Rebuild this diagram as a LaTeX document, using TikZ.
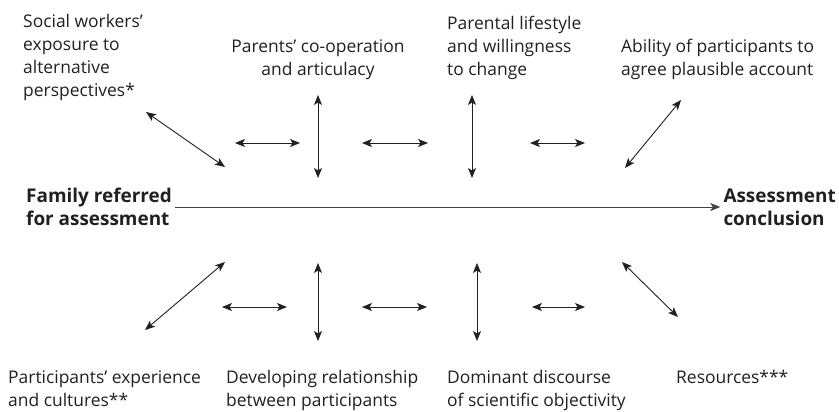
\documentclass[tikz,border=0pt]{standalone}
\usepackage{fontspec}
\setmainfont{Open Sans}
\usetikzlibrary{arrows.meta}

\definecolor{ink}{HTML}{231F20}

\tikzset{
  factor/.style={font=\fontsize{17.5}{23}\selectfont, text=ink, inner sep=0pt, align=left},
  stage/.style={font=\fontsize{19}{23}\selectfont\bfseries, text=ink, inner sep=3bp, align=left},
  twoway/.style={{Stealth[length=10bp,width=8bp,inset=2.5bp]}-{Stealth[length=10bp,width=8bp,inset=2.5bp]}, line width=0.9bp, draw=ink},
  oneway/.style={-{Stealth[length=10bp,width=8bp,inset=2.5bp]}, line width=1bp, draw=ink!85},
}

\begin{document}
\begin{tikzpicture}[x=1bp,y=-1bp]
\useasboundingbox (0,0) rectangle (839,411);

% influences above the line (base = last line)
\node[factor, anchor=base west] (social) at (23,96) {Social workers'\\exposure to\\alternative\\perspectives*};
\node[factor, anchor=base, align=center] (parents) at (318,75) {Parents' co-operation\\and articulacy};
\node[factor, anchor=base west] (lifestyle) at (447,75) {Parental lifestyle\\and willingness\\to change};
\node[factor, anchor=base west] (ability) at (621,75) {Ability of participants to\\agree plausible account};

% the assessment itself
\node[stage, anchor=west] (family) at (23,207) {Family referred\\for assessment};
\node[stage, anchor=east] (conclusion) at (839,207) {Assessment\\conclusion};
\draw[oneway] (family.east) -- (conclusion.west);

% influences below the line
\node[factor, anchor=base west] (experience) at (8,406) {Participants' experience\\and cultures**};
\node[factor, anchor=base west] (relationship) at (226,406) {Developing relationship\\between participants};
\node[factor, anchor=base west] (discourse) at (447,406) {Dominant discourse\\of scientific objectivity};
\node[factor, anchor=base west] (resources) at (676,383) {Resources***};

% double arrows between the influences
\foreach \n/\xa/\ya/\xb/\yb in {
  t1/146/112/225/167, t2/235/143/300/143, t3/318/95/318/178,
  t4/362/143/428/143, t5/472/95/472/178, t6/530/143/585/143,
  t7/681/100/625/168,
  b1/225/262/145/330, b2/222/307/287/307, b3/318/263/318/341,
  b4/362/307/427/307, b5/477/263/477/341, b6/532/307/585/307,
  b7/622/262/678/317}{
  \coordinate (\n a) at (\xa,\ya);
  \coordinate (\n b) at (\xb,\yb);
  \draw[twoway] (\n a) -- (\n b);
}
\end{tikzpicture}
\end{document}
